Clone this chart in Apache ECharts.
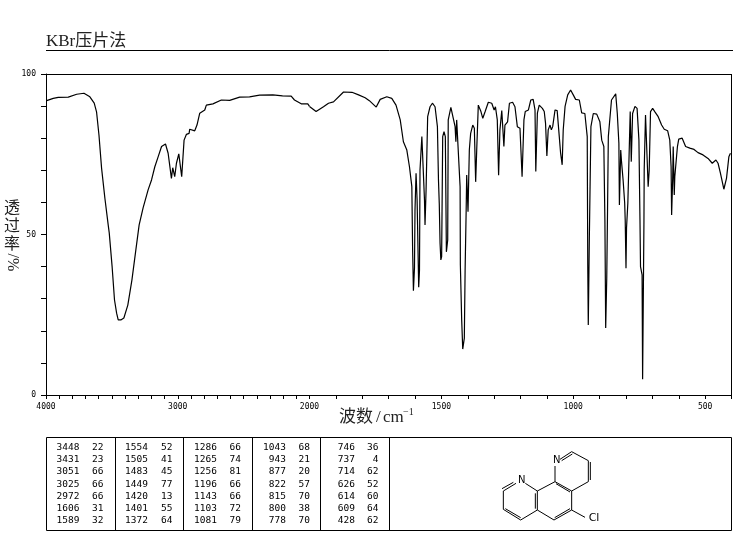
<!DOCTYPE html>
<html><head><meta charset="utf-8">
<style>html,body{margin:0;padding:0;background:#fff}#c{width:737px;height:539px}</style>
<script src="https://cdn.jsdelivr.net/npm/echarts@6/dist/echarts.min.js"></script>
</head><body><div id="c"></div>
<script>
var highWave=[3995,3945,3907,3831,3767,3712,3667,3634,3616,3598,3578,3553,3528,3520,3498,3480,3464,3452,3432,3409,3379,3348,3318,3293,3263,3225,3199,3174,3149,3123,3093,3073,3048,3038,3023,3010,2992,2980,2970,2952,2934,2914,2909,2871,2854,2833,2795,2783,2733,2669,2606,2530,2455,2379,2278,2205,2139,2114,2063,2013,2000];
var highT=[91.7,92.4,92.7,92.8,93.7,94.0,92.9,90.9,88.1,81.0,70.6,61.3,53.0,50.5,39.9,29.6,25.5,23.4,23.4,24.0,28.0,35.8,45.2,53.0,58.3,63.9,67.0,71.1,74.2,77.4,78.2,75.3,67.5,70.8,68.0,72.2,75.1,75.3,68.0,79.4,81.2,81.5,82.8,82.3,84.1,87.8,88.8,90.3,90.7,91.9,91.8,92.8,92.9,93.4,93.5,93.2,93.1,91.9,90.7,90.7,89.9];
var lowWave=[2000,1975,1947,1928,1909,1871,1839,1814,1789,1773,1747,1732,1707,1688,1672,1656,1644,1631,1621,1612,1609,1606,1602,1600,1596,1592,1586,1583,1581,1574,1568,1564,1562,1558,1552,1543,1534,1524,1515,1511,1508,1505,1502,1499,1495,1490,1485,1481,1476,1474,1464,1457,1448,1445,1442,1436,1429,1428,1423,1419,1417,1413,1410,1406,1404,1399,1394,1389,1381,1375,1370,1366,1360,1353,1350,1343,1334,1322,1309,1300,1295,1288,1283,1278,1271,1265,1263,1259,1249,1242,1230,1221,1212,1202,1194,1187,1182,1170,1161,1152,1145,1142,1136,1129,1117,1110,1105,1100,1095,1088,1083,1078,1069,1061,1053,1048,1042,1038,1031,1021,1010,1000,991,977,968,956,947,945,943,939,938,933,924,911,899,892,884,880,877,873,870,867,855,839,833,827,825,820,817,811,805,803,800,798,793,784,780,775,766,758,751,747,745,739,737,735,732,731,726,720,716,712,707,699,691,678,665,655,642,634,629,627,623,621,617,615,605,600,587,574,558,542,527,508,489,473,459,451,442,429,419,410,404];
var lowT=[89.9,88.3,89.8,90.9,91.3,94.4,94.3,93.5,92.6,91.7,89.7,92.1,92.9,92.4,90.3,85.7,78.9,76.3,71.1,64.9,45.2,32.5,39.6,57.6,69.1,60.7,33.6,38.9,70.1,80.5,80.5,60.7,53.0,63.9,86.7,89.8,90.9,89.8,83.6,67.0,59.7,47.3,42.1,43.1,80.5,82.0,80.5,44.6,48.3,85.7,89.6,89.0,83.6,78.9,85.7,85.7,64.9,40.5,23.4,14.3,14.2,17.7,38.9,57.6,68.5,57.1,76.3,81.5,84.1,83.1,66.4,76.3,90.3,90.9,88.3,86.2,88.3,91.2,90.9,88.8,89.8,85.7,68.5,82.6,88.6,88.3,77.4,84.1,85.1,90.9,91.2,89.8,83.6,83.1,68.0,85.7,88.3,88.8,91.9,92.1,88.8,69.6,87.8,90.3,89.3,88.3,84.6,74.5,82.6,84.1,82.6,83.6,88.8,88.6,80.5,75.4,71.7,82.6,89.9,93.5,95.0,93.5,92.1,91.9,87.9,87.7,80.5,40.5,21.8,48.9,54.5,83.6,87.7,87.5,85.1,79.4,77.4,54.5,20.9,36.4,57.6,80.5,91.9,93.8,87.7,78.4,59.2,76.3,72.7,67.0,59.8,54.5,39.5,52.0,59.8,88.3,72.7,87.7,89.9,89.3,79.4,54.5,40.0,37.4,4.9,4.9,53.6,70.1,87.2,87.7,64.9,70.1,88.3,89.3,88.3,86.7,84.1,82.8,82.3,79.4,71.1,56.1,67.6,77.4,62.3,68.0,77.4,79.7,80.0,77.4,76.9,76.5,75.5,74.8,73.7,72.2,73.2,72.2,69.1,64.1,67.5,74.2,75.3];
var xTickLabels=['4000','3000','2000','1500','1000','500'];
var yTickLabels=['0','50','100'];
var peakColumns=[
 [[3448,22],[3431,23],[3051,66],[3025,66],[2972,66],[1606,31],[1589,32]],
 [[1554,52],[1505,41],[1483,45],[1449,77],[1420,13],[1401,55],[1372,64]],
 [[1286,66],[1265,74],[1256,81],[1196,66],[1143,66],[1103,72],[1081,79]],
 [[1043,68],[943,21],[877,20],[822,57],[815,70],[800,38],[778,70]],
 [[746,36],[737,4],[714,62],[626,52],[614,60],[609,64],[428,62]]
];
var title='KBr压片法';

function zip(a,b){return a.map(function(v,i){return [v,b[i]];});}
var mono='"DejaVu Sans Mono",monospace';
var serif='"Liberation Serif","Noto Sans CJK SC",serif';
function xAxis(idx,min,max){return {
  type:'value',gridIndex:idx,inverse:true,min:min,max:max,interval:100,
  axisLine:{onZero:false,lineStyle:{color:'#000',width:1}},
  axisTick:{length:4,lineStyle:{color:'#000',width:1}},
  splitLine:{show:false},
  axisLabel:{show:true,color:'#000',fontFamily:mono,fontSize:8,margin:8,showMinLabel:true,showMaxLabel:true,
    formatter:function(v){var s=String(v);
      if(idx===1&&s==='2000')return '';
      return xTickLabels.indexOf(s)>=0?s:'';}}
};}
function yAxis(idx){return {
  type:'value',gridIndex:idx,min:0,max:100,interval:10,show:idx===0,
  axisLine:{show:true,lineStyle:{color:'#000',width:1}},
  axisTick:{show:true,length:5,lineStyle:{color:'#000',width:1}},
  splitLine:{show:false},
  axisLabel:{color:'#000',fontFamily:mono,fontSize:8,margin:10,
    formatter:function(v){return yTickLabels.indexOf(String(v))>=0?String(v):'';}}
};}
function line(idx,data){return {type:'line',xAxisIndex:idx,yAxisIndex:idx,data:data,showSymbol:false,
  sampling:'none',silent:true,animation:false,clip:false,lineStyle:{color:'#000',width:1.2,join:'bevel'}};}

var g=[];
function seg(x1,y1,x2,y2,w){g.push({type:'line',silent:true,shape:{x1:x1,y1:y1,x2:x2,y2:y2},style:{stroke:'#000',lineWidth:w||1}});}
function txt(x,y,t,o){o=o||{};g.push({type:'text',silent:true,x:x,y:y,rotation:o.rot||0,style:{text:t,fill:o.fill||'#000',font:o.font,textAlign:o.align||'left',textVerticalAlign:o.va||'middle'}});}

// title
txt(46,42,title,{font:'17px '+serif,fill:'#222'});
seg(46,50.5,733,50.5);
// frame closing edges
seg(46,74.5,732,74.5);
seg(731.5,74,731.5,395.5);
// axis captions
['透','过','率'].forEach(function(c,i){txt(12,208.5+i*18,c,{font:'16px '+serif,align:'center',fill:'#222'});});
txt(12,262.5,'/%',{font:'16px '+serif,align:'center',rot:-Math.PI/2,fill:'#222'});
txt(339,418,'波数',{font:'17px '+serif,fill:'#222'});
txt(376,418,'/',{font:'17px '+serif,fill:'#222'});
txt(383,418,'cm',{font:'17px '+serif,fill:'#222'});
txt(403,412,'−1',{font:'10px '+serif,fill:'#222'});
// peak table
var tTop=437.5,tBot=530.5,tL=46.5,tR=731.5;
seg(tL,tTop,tR,tTop);seg(tL,tBot,tR,tBot);seg(tL,tTop,tL,tBot);seg(tR,tTop,tR,tBot);
[115.5,183.5,252.5,320.5,389.5].forEach(function(x){seg(x,tTop,x,tBot);});
var waveRight=[79.5,148,217,286,355],valRight=[103.5,172.5,241,310,378.5];
peakColumns.forEach(function(col,c){col.forEach(function(r,i){
  var y=447.5+i*12.2;
  txt(waveRight[c],y,String(r[0]),{font:'9.5px '+mono,align:'right'});
  txt(valRight[c],y,String(r[1]),{font:'9.5px '+mono,align:'right'});
});});
// structure drawing
function mx(z){return 480+z/3;} function my(z){return 430+z/3;}
[[108,160,70,183],[100,157,66,176],[70,183,70,238],[70,238,122,270],[76,236,122,263],[122,270,172,240],
 [172,183,172,240],[166,190,166,236],[172,183,136,160],
 [172,240,222,270],[222,270,275,240],[224,263,270,236],[275,240,275,183],[275,183,225,155],[270,186,228,161],[225,155,172,183],
 [225,155,225,108],[240,88,275,65],[245,92,277,72],[275,65,325,92],[325,92,325,155],[331,96,331,150],[325,155,275,183],
 [275,240,315,262]
].forEach(function(b){seg(mx(b[0]),my(b[1]),mx(b[2]),my(b[3]));});
txt(mx(125),my(152),'N',{font:'10px "DejaVu Sans"',align:'center'});
txt(mx(230),my(92),'N',{font:'10px "DejaVu Sans"',align:'center'});
txt(mx(326),my(265),'Cl',{font:'11px "DejaVu Sans"'});

var chart=echarts.init(document.getElementById('c'),null,{renderer:'canvas'});
chart.setOption({
  animation:false,backgroundColor:'#fff',
  grid:[{left:46,top:74,width:263.5,height:321,containLabel:false},
        {left:309.5,top:74,width:422,height:321,containLabel:false}],
  xAxis:[xAxis(0,2000,4000),xAxis(1,400,2000)],
  yAxis:[yAxis(0),yAxis(1)],
  series:[line(0,zip(highWave,highT)),line(1,zip(lowWave,lowT))],
  graphic:g
});
</script></body></html>
